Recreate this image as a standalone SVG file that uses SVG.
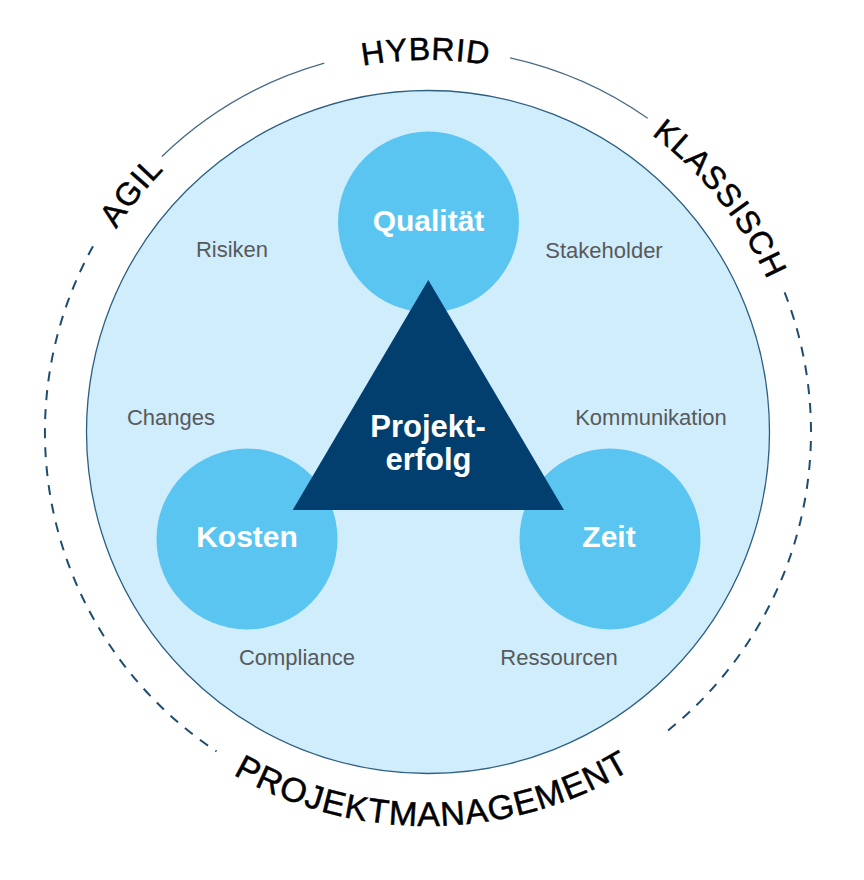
<svg xmlns="http://www.w3.org/2000/svg" width="864" height="880" viewBox="0 0 864 880">
  <defs>
    <style>
      .ring { fill: none; stroke: #4a6a82; stroke-width: 1.3; }
      .dash { fill: none; stroke: #1f4d6d; stroke-width: 2; stroke-dasharray: 10 9; }
      .arcText { font-family: "Liberation Sans", Arial, Helvetica, sans-serif; font-size: 32px; fill: #000000; stroke: #000000; stroke-width: 0.5; letter-spacing: 1px; }
      .label { font-family: "Liberation Sans", Arial, Helvetica, sans-serif; font-size: 22px; fill: #58595b; text-anchor: middle; }
      .node { fill: #5bc5f2; }
      .nodeText { font-family: "Liberation Sans", Arial, Helvetica, sans-serif; font-size: 30px; font-weight: bold; fill: #ffffff; text-anchor: middle; }
    </style>
    <path id="topArc" d="M 56 432 A 372 372 0 0 1 800 432"/>
    <path id="bottomArc" d="M 34 432 A 394 394 0 0 0 822 432"/>
  </defs>

  <rect width="864" height="880" fill="#ffffff"/>

  <g id="main-circle">
    <circle cx="428" cy="432" r="341.5" fill="#cfedfb" stroke="#2d5f82" stroke-width="1.3"/>
  </g>

  <g id="connectors">
    <path class="ring" d="M 161.9 156.5 A 383 383 0 0 1 324.3 63.2"/>
    <path class="ring" d="M 510.1 57.9 A 383 383 0 0 1 647.7 118.3"/>
    <path class="dash" d="M 93.0 246.3 A 383 383 0 0 0 216.5 751.4"/>
    <path class="dash" d="M 784.6 292.3 A 383 383 0 0 1 662.8 734.6"/>
  </g>

  <g id="frame-labels">
    <text class="arcText"><textPath href="#topArc" startOffset="253" text-anchor="middle">AGIL</textPath></text>
    <text class="arcText"><textPath href="#topArc" startOffset="582" text-anchor="middle">HYBRID</textPath></text>
    <text class="arcText"><textPath href="#topArc" startOffset="918" text-anchor="middle">KLASSISCH</textPath></text>
    <text class="arcText" style="font-size:34px"><textPath href="#bottomArc" startOffset="50.4%" text-anchor="middle">PROJEKTMANAGEMENT</textPath></text>
  </g>

  <g id="side-labels">
    <text class="label" x="232" y="257">Risiken</text>
    <text class="label" x="604" y="258">Stakeholder</text>
    <text class="label" x="171" y="425">Changes</text>
    <text class="label" x="651" y="425">Kommunikation</text>
    <text class="label" x="297" y="665">Compliance</text>
    <text class="label" x="559" y="665">Ressourcen</text>
  </g>

  <g id="node-qualitaet">
    <circle class="node" cx="428.5" cy="222" r="90.5"/>
    <text class="nodeText" x="428.5" y="231">Qualität</text>
  </g>

  <g id="node-kosten">
    <circle class="node" cx="247" cy="539" r="90.5"/>
    <text class="nodeText" x="247" y="547">Kosten</text>
  </g>

  <g id="node-zeit">
    <circle class="node" cx="610" cy="539" r="90.5"/>
    <text class="nodeText" x="609" y="547">Zeit</text>
  </g>

  <g id="node-projekterfolg">
    <polygon points="428.3,280 292.7,510 564,510" fill="#023f6e"/>
    <text class="nodeText" x="428" y="437" style="font-size:31px">Projekt-</text>
    <text class="nodeText" x="428.5" y="470" style="font-size:31px">erfolg</text>
  </g>
</svg>
